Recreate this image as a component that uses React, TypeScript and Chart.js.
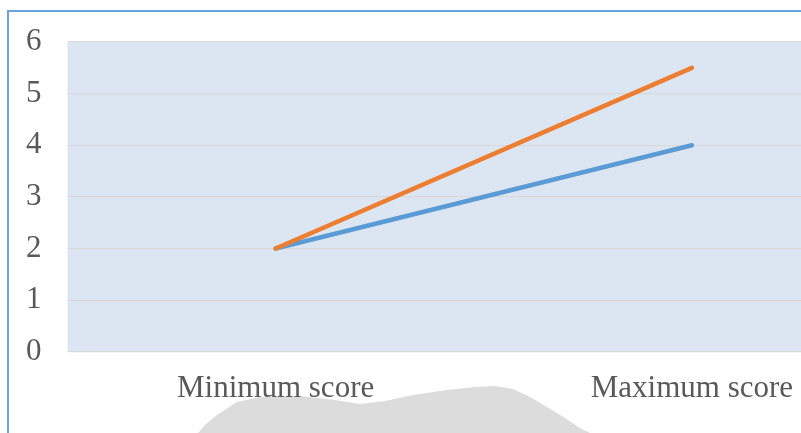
import React, { useEffect, useRef } from "react";
import { Chart, registerables } from "chart.js";

Chart.register(...registerables);

// Score ranges for the two series
const categories = ["Minimum score", "Maximum score"];
const seriesBlue = [2, 4];
const seriesOrange = [2, 5.5];
const yTicks = [0, 1, 2, 3, 4, 5, 6];

const FONT = "'Liberation Serif', 'Times New Roman', serif";

// Fills the plot area with the pale blue panel colour
const plotBackground = {
  id: "plotBackground",
  beforeDraw(chart: any) {
    const { ctx, chartArea } = chart;
    if (!chartArea) return;
    ctx.save();
    ctx.fillStyle = "#dce6f2";
    ctx.fillRect(chartArea.left, chartArea.top, chartArea.right - chartArea.left, chartArea.bottom - chartArea.top);
    ctx.restore();
  },
};

// Faint grey backdrop shape beneath the axis labels
const backdropPoints =
  "198,433 205,425 217,415 237,402 260,397 300,396 335,400 360,404 385,401 413,395 447,390 475,387 495,386 513,389 530,397 547,407 565,418 580,428 590,433";

export default function App() {
  const canvasRef = useRef<HTMLCanvasElement | null>(null);

  useEffect(() => {
    const canvas = canvasRef.current;
    if (!canvas) return;
    const chart = new Chart(canvas, {
      type: "line",
      data: {
        labels: categories,
        datasets: [
          {
            label: "Series 1",
            data: seriesBlue,
            borderColor: "#5b9bd5",
            backgroundColor: "#5b9bd5",
            borderWidth: 4.5,
            borderCapStyle: "round",
            pointRadius: 0,
            tension: 0,
            order: 1,
          },
          {
            label: "Series 2",
            data: seriesOrange,
            borderColor: "#ed7d31",
            backgroundColor: "#ed7d31",
            borderWidth: 4.5,
            borderCapStyle: "round",
            pointRadius: 0,
            tension: 0,
            order: 0,
          },
        ],
      },
      options: {
        responsive: false,
        animation: false,
        layout: { padding: { left: 0, top: 42, right: 40, bottom: 8 } },
        plugins: {
          legend: { display: false },
          tooltip: { enabled: false },
          title: { display: false },
        },
        scales: {
          x: {
            offset: true,
            grid: { display: false, drawTicks: false },
            border: { display: false },
            ticks: {
              padding: 18,
              color: "#595959",
              font: { family: FONT, size: 31 },
              maxRotation: 0,
            },
          },
          y: {
            min: yTicks[0],
            max: yTicks[yTicks.length - 1],
            afterFit(scale: any) {
              scale.width = 67.5;
              scale.paddingTop = 0;
              scale.paddingBottom = 0;
            },
            grid: { color: "#d9d9d9", lineWidth: 1.3, drawTicks: false },
            border: { display: false },
            ticks: {
              stepSize: 1,
              padding: 26,
              color: "#595959",
              font: { family: FONT, size: 31 },
            },
          },
        },
      },
      plugins: [plotBackground],
    });
    return () => chart.destroy();
  }, []);

  return (
    <div
      style={{
        position: "fixed",
        left: 0,
        top: 0,
        width: 801,
        height: 433,
        overflow: "hidden",
        background: "#ffffff",
      }}
    >
      <svg width={801} height={433} style={{ position: "absolute", left: 0, top: 0 }}>
        <polygon points={backdropPoints} fill="#dcdcdc" />
      </svg>
      <div
        style={{
          position: "absolute",
          left: 7,
          top: 10,
          width: 2000,
          height: 2000,
          border: "2px solid #6aa4dc",
          boxSizing: "border-box",
        }}
      />
      <canvas
        ref={canvasRef}
        width={940}
        height={433}
        style={{ position: "absolute", left: 0, top: 0, width: 940, height: 433 }}
      />
    </div>
  );
}
